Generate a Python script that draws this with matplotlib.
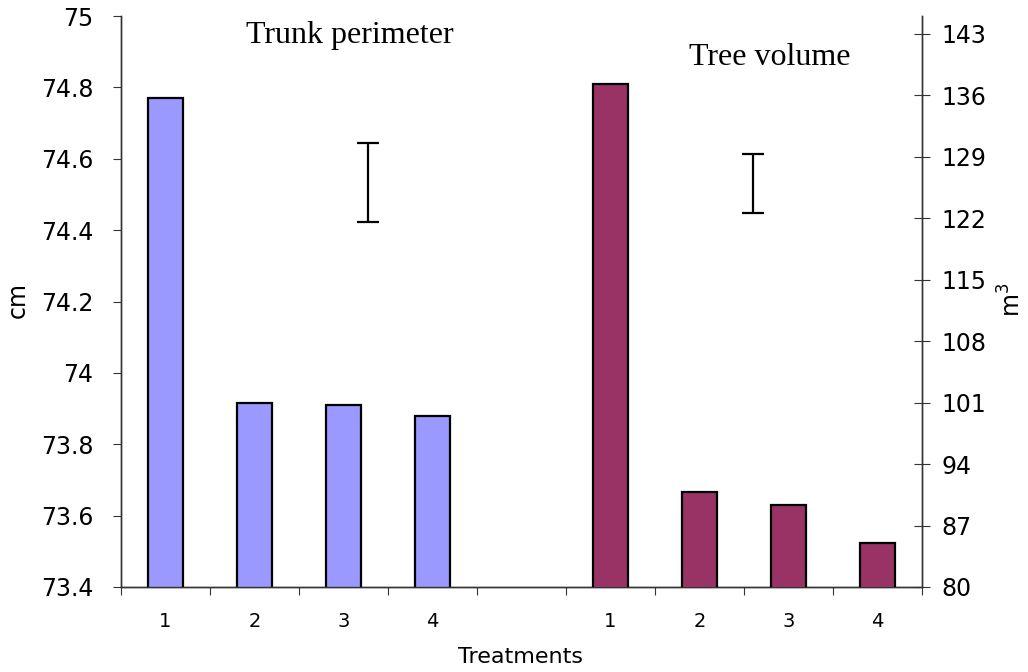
import matplotlib.pyplot as plt
import numpy as np

treatments = ['1', '2', '3', '4']
perimeter = [74.77, 73.915, 73.91, 73.88]      # cm, left axis
volume = [137.3, 90.8, 89.3, 85.0]             # m3, right axis
perim_lsd = (74.533, 0.11)                      # centre, half length
vol_lsd = (125.9, 3.37)

fig = plt.figure(figsize=(10.28, 6.72), dpi=100)
ax = fig.add_axes([121 / 1028, 85 / 672, 801 / 1028, 571 / 672])
ax2 = ax.twinx()

x_left = np.arange(len(treatments))
x_right = np.arange(len(treatments)) + len(treatments) + 1

ax.bar(x_left, perimeter, width=0.4, color='#9999ff', edgecolor='black', linewidth=1.6, zorder=3)
ax2.bar(x_right, volume, width=0.4, color='#993366', edgecolor='black', linewidth=1.6, zorder=3)

ax.errorbar([2.28], [perim_lsd[0]], yerr=[perim_lsd[1]], fmt='none', ecolor='black',
            elinewidth=1.6, capsize=8, capthick=1.6)
ax2.errorbar([6.60], [vol_lsd[0]], yerr=[vol_lsd[1]], fmt='none', ecolor='black',
             elinewidth=1.6, capsize=8, capthick=1.6)

ax.set_xlim(-0.5, 8.5)
ax.set_ylim(73.4, 75)
ax2.set_ylim(80, 145)

yt = np.round(np.arange(73.4, 75.01, 0.2), 1)
ax.set_yticks(yt)
ax.set_yticklabels([f'{v:g}' for v in yt], fontsize=17, family='DejaVu Sans')
ax2.set_yticks(np.arange(80, 144, 7))
ax2.set_yticklabels([str(v) for v in range(80, 144, 7)], fontsize=17, family='DejaVu Sans')

ax.set_xticks(np.arange(-0.5, 9, 1))
ax.set_xticklabels([])
ax.set_xticks(np.arange(9), minor=True)
ax.set_xticklabels(treatments + [''] + treatments, minor=True, fontsize=14)
ax.tick_params(axis='x', which='major', direction='out', length=6, color='#333333')
ax.tick_params(axis='x', which='minor', length=0, pad=18)
ax.tick_params(axis='y', direction='out', length=6, color='#333333', pad=14)
ax2.tick_params(axis='y', direction='inout', length=12, color='#333333', pad=8)

for a in (ax, ax2):
    a.spines['top'].set_visible(False)
    for s in ('left', 'right', 'bottom'):
        a.spines[s].set_color('#333333')
        a.spines[s].set_linewidth(1.0)

fig.text(246 / 1028, 1 - 43 / 672, 'Trunk perimeter', family='Liberation Serif', fontsize=23)
fig.text(689 / 1028, 1 - 65 / 672, 'Tree volume', family='Liberation Serif', fontsize=23)

fig.text(18 / 1028, 1 - 300 / 672, 'cm', rotation=90, fontsize=17, ha='center', va='center')
fig.text(1012 / 1028, 1 - 300 / 672, 'm$^3$', rotation=90, fontsize=17, ha='center', va='center')
fig.text(521 / 1028, 1 - 657 / 672, 'Treatments', fontsize=16, ha='center', va='center')

fig.savefig('out.png', dpi=100)
